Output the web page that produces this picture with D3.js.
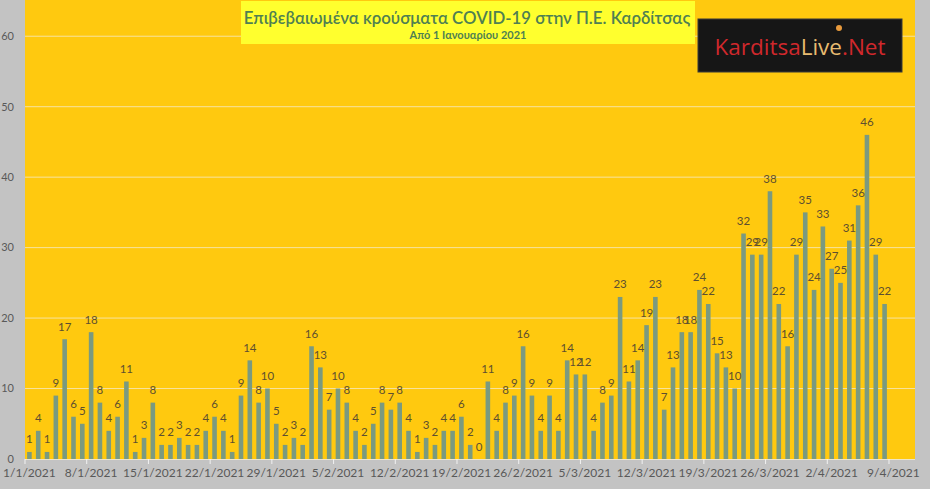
<!DOCTYPE html>
<html><head><meta charset="utf-8">
<script src="https://cdn.jsdelivr.net/npm/d3@7"></script>
<style>
html,body{margin:0;padding:0;background:#c3c3c3;}
svg{display:block;}
</style></head>
<body>
<svg id="c" width="930" height="489"></svg>
<script>
const startDate = "2021-01-01";
const janCases = [1,4,1,9,17,6,5,18,8,4,6,11,1,3,8,2,2,3,2,2,4,6,4,1,9,14,8,10,5,2,3];
const febCases = [2,16,13,7,10,8,4,2,5,8,7,8,4,1,3,2,4,4,6,2,0,11,4,8,9,16,9,4];
const marCases = [9,4,14,12,12,4,8,9,23,11,14,19,23,7,13,18,18,24,22,15,13,10,32,29,29,38,22,16,29,35,24];
const aprCases = [33,27,25,31,36,46,29,22];
const yTicks = [0,10,20,30,40,50,60];
const xTickLabels = ["1/1/2021","8/1/2021","15/1/2021","22/1/2021","29/1/2021","5/2/2021","12/2/2021","19/2/2021","26/2/2021","5/3/2021","12/3/2021","19/3/2021","26/3/2021","2/4/2021","9/4/2021"];
const title = "Επιβεβαιωμένα κρούσματα COVID-19 στην Π.Ε. Καρδίτσας";
const subtitle = "Από 1 Ιανουαρίου 2021";

const values = [...janCases, ...febCases, ...marCases, ...aprCases];
const t0 = new Date(startDate + "T00:00:00Z");
const day = 864e5;
const data = values.map((v, i) => ({date: new Date(t0.getTime() + i * day), v}));

const svg = d3.select("#c");
const L = 25, R = 915, T = 0, B = 459;
const x = d3.scaleUtc()
  .domain([t0, new Date(t0.getTime() + 98 * day)])
  .range([L, 889]);
const bw = x(new Date(t0.getTime() + day)) - x(t0);
const y = d3.scaleLinear().domain([0, 65]).range([B, T + 1]);

svg.append("rect").attr("x", L).attr("y", T).attr("width", R - L).attr("height", B - T)
  .attr("fill", "#ffc90f");

// gridlines
svg.append("g").selectAll("line").data(yTicks.filter(d => d > 0)).join("line")
  .attr("x1", L).attr("x2", R).attr("y1", d => y(d)).attr("y2", d => y(d))
  .attr("stroke", "#f7e3a0").attr("stroke-width", 1);

// y axis labels
const font = "Lato, 'Open Sans', sans-serif";
svg.append("g").selectAll("text").data(yTicks).join("text")
  .attr("x", 14).attr("y", d => y(d)).attr("dy", "0.35em")
  .attr("text-anchor", "end").attr("font-family", font).attr("font-size", 11)
  .attr("fill", "#595959").text(d => d);

// x axis
svg.append("line").attr("x1", L).attr("x2", R).attr("y1", B + 0.5).attr("y2", B + 0.5)
  .attr("stroke", "#efe6c8");
const tickDates = d3.range(0, 99, 7).map(i => new Date(t0.getTime() + i * day));
svg.append("g").selectAll("line").data(tickDates).join("line")
  .attr("x1", d => x(d)).attr("x2", d => x(d)).attr("y1", B).attr("y2", B + 5)
  .attr("stroke", "#f2f2f2");
svg.append("g").selectAll("text").data(tickDates).join("text")
  .attr("x", d => x(d) + bw / 2).attr("y", 473).attr("dy", "0.35em")
  .attr("text-anchor", "middle").attr("font-family", font).attr("font-size", 12)
  .attr("fill", "#595959").text((d, i) => xTickLabels[i]);

// bars
const barW = 4.6;
svg.append("g").selectAll("rect").data(data).join("rect")
  .attr("x", d => x(d.date) + bw / 2 - barW / 2).attr("width", barW)
  .attr("y", d => y(d.v)).attr("height", d => B - y(d.v))
  .attr("fill", "#7a9a80");

// value labels
svg.append("g").selectAll("text").data(data).join("text")
  .attr("x", d => x(d.date) + bw / 2).attr("y", d => y(d.v) - 8.5)
  .attr("text-anchor", "middle").attr("font-family", font).attr("font-size", 11.5)
  .attr("fill", "#5d4f30").text(d => d.v);

// title box
svg.append("rect").attr("x", 241).attr("y", 1).attr("width", 454).attr("height", 43).attr("fill", "#ffff2e");
svg.append("text").attr("x", 467).attr("y", 18).attr("dy", "0.35em").attr("text-anchor", "middle")
  .attr("font-family", font).attr("font-size", 16.8).attr("font-weight", 600)
  .attr("fill", "#4f7f52").text(title);
svg.append("text").attr("x", 468).attr("y", 35).attr("dy", "0.35em").attr("text-anchor", "middle")
  .attr("font-family", font).attr("font-size", 11).attr("font-weight", 700)
  .attr("fill", "#4f7f52").text(subtitle);

// logo
const g = svg.append("g");
g.append("rect").attr("x", 698).attr("y", 19).attr("width", 204).attr("height", 53).attr("fill", "#161616").attr("stroke", "#3a3a3a");
const lt = g.append("text").attr("x", 800).attr("y", 47).attr("dy", "0.35em").attr("text-anchor", "middle")
  .attr("font-family", "'Open Sans', sans-serif").attr("font-size", 22.5);
lt.append("tspan").attr("fill", "#d0282c").text("Karditsa");
lt.append("tspan").attr("fill", "#e8bb70").text("Live");
lt.append("tspan").attr("fill", "#d0282c").text(".Net");
g.append("circle").attr("cx", 839).attr("cy", 28).attr("r", 3).attr("fill", "#e89a3c");
</script>
</body></html>
